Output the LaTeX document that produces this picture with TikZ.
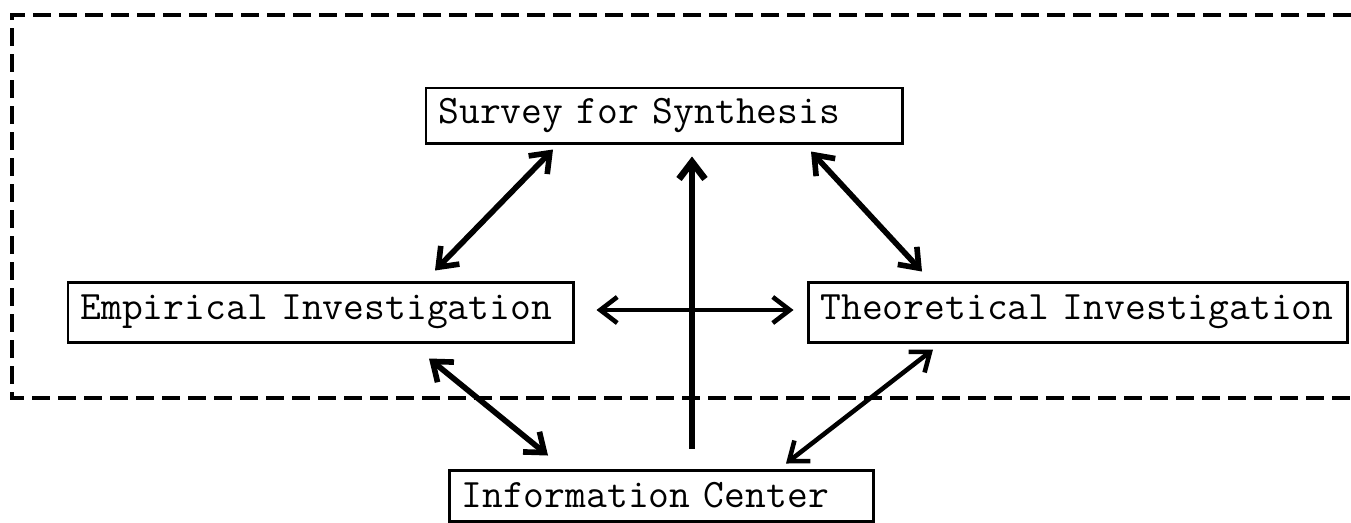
\documentclass[tikz,border=0pt]{standalone}
\usepackage{fontspec}
\usetikzlibrary{arrows.meta,positioning,calc}
\definecolor{Ink}{HTML}{000000}
\tikzset{
  stage/.style={draw=Ink,line width=1.7pt,inner xsep=.25cm,inner ysep=0pt,align=left,
                font=\fontsize{23}{27}\selectfont\ttfamily},
  link/.style={{Straight Barb[length=.34cm,width=.52cm]}-{Straight Barb[length=.34cm,width=.52cm]},draw=Ink,line width=3.2pt},
  feed/.style={-{Straight Barb[length=.34cm,width=.52cm]},draw=Ink,line width=3.8pt},
  frame/.style={draw=Ink,line width=2.3pt,dash pattern=on .36cm off .16cm},
}
\begin{document}
\begin{tikzpicture}
    \useasboundingbox (0,0) rectangle (27.02,-10.44);

    % boxes
    \node[stage,text width=9.02cm,minimum height=1.1cm] (survey) at (13.28,-2.31) {Survey for Synthesis};
    \node[stage,text width=9.6cm,minimum height=1.2cm] (empirical) at (6.41,-6.24) {Empirical Investigation};
    \node[stage,text width=10.28cm,minimum height=1.2cm] (theoretical) at (21.55,-6.24) {Theoretical Investigation};
    \node[stage,text width=7.98cm,minimum height=1.02cm] (info) at (13.22,-9.91) {Information Center};

    % dashed frame, open on the right
    \coordinate (frameNE) at (27.02,-.3);
    \coordinate (frameNW) at (.24,-.3);
    \coordinate (frameSW) at (.24,-7.96);
    \coordinate (frameSE) at (27.02,-7.96);
    \draw[frame] (frameNE) -- (frameNW) -- (frameSW) -- (frameSE);

    % connectors
    \draw[link] ([xshift=-2.22cm,yshift=-.1cm]survey.south) -- ([xshift=2.29cm,yshift=.2cm]empirical.north);
    \draw[link] ([xshift=2.94cm,yshift=-.14cm]survey.south) -- ([xshift=-3.11cm,yshift=.18cm]theoretical.north);
    \draw[link,line width=2.6pt] ([xshift=.44cm,yshift=.04cm]empirical.east) -- ([xshift=-.26cm,yshift=.04cm]theoretical.west);
    \draw[link] ([xshift=2.17cm,yshift=-.3cm]empirical.south) -- ([xshift=-2.26cm,yshift=.26cm]info.north);
    \draw[link,line width=2.6pt] ([xshift=-2.89cm,yshift=-.12cm]theoretical.south) -- ([xshift=2.5cm,yshift=.1cm]info.north);
    \draw[feed] ([xshift=.62cm,yshift=.4cm]info.north) -- ([xshift=.56cm,yshift=-.24cm]survey.south);
\end{tikzpicture}
\end{document}
